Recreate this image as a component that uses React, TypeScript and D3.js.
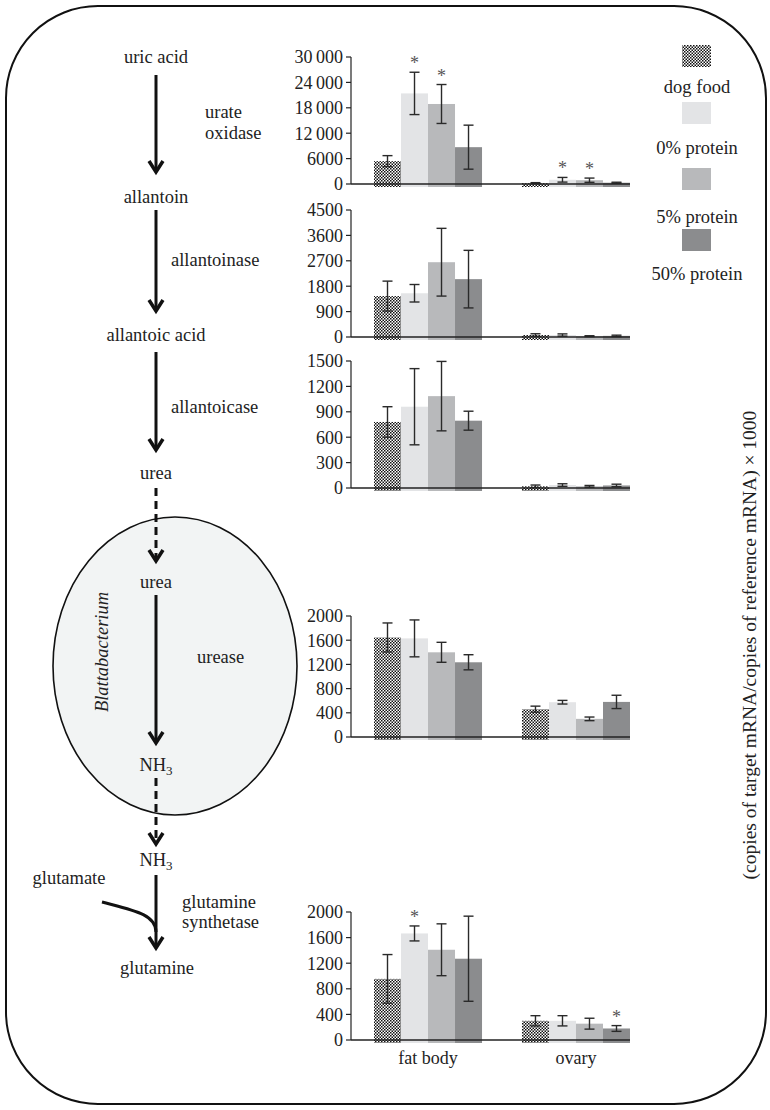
import React from "react";
import * as d3 from "d3";

// ---------- data ----------
const groups = ["fat body", "ovary"];
const series = ["dog food", "0% protein", "5% protein", "50% protein"];
const seriesColors = ["pattern", "#e3e4e6", "#b8b9bb", "#8b8c8e"];

// urate oxidase
const uoMeans = [[5400, 21400, 18900, 8700], [200, 1000, 900, 300]];
const uoErrs = [[1300, 5000, 4600, 5200], [120, 550, 500, 120]];
const uoStars = [[false, true, true, false], [false, true, true, false]];
const uoTicks = [0, 6000, 12000, 18000, 24000, 30000];

// allantoinase
const anMeans = [[1450, 1550, 2650, 2050], [70, 70, 30, 40]];
const anErrs = [[530, 310, 1200, 1020], [45, 40, 15, 25]];
const anStars = [[false, false, false, false], [false, false, false, false]];
const anTicks = [0, 900, 1800, 2700, 3600, 4500];

// allantoicase
const acMeans = [[780, 960, 1085, 795], [20, 35, 20, 30]];
const acErrs = [[180, 450, 410, 112], [15, 15, 10, 15]];
const acStars = [[false, false, false, false], [false, false, false, false]];
const acTicks = [0, 300, 600, 900, 1200, 1500];

// urease
const urMeans = [[1645, 1630, 1400, 1235], [460, 575, 300, 580]];
const urErrs = [[240, 305, 165, 125], [50, 30, 30, 110]];
const urStars = [[false, false, false, false], [false, false, false, false]];
const urTicks = [0, 400, 800, 1200, 1600, 2000];

// glutamine synthetase
const gsMeans = [[955, 1665, 1410, 1270], [300, 300, 255, 180]];
const gsErrs = [[380, 117, 405, 665], [80, 80, 85, 45]];
const gsStars = [[false, true, false, false], [false, false, false, true]];
const gsTicks = [0, 400, 800, 1200, 1600, 2000];

const yLabel = "(copies of target mRNA/copies of reference mRNA) \u00d7 1000";

// ---------- layout ----------
const W = 770;
const H = 1110;
const FONT = "Liberation Serif, Times New Roman, Tinos, DejaVu Serif, Noto Serif, serif";
const FS = 18.5;
const axisX = 351;
const plotRight = 630;

const panels = [
  { means: uoMeans, errs: uoErrs, stars: uoStars, ticks: uoTicks, top: 57, bottom: 184, fmt: (v: number) => (v >= 10000 ? d3.format(",")(v).replace(",", "\u2009") : String(v)) },
  { means: anMeans, errs: anErrs, stars: anStars, ticks: anTicks, top: 210, bottom: 337, fmt: (v: number) => String(v) },
  { means: acMeans, errs: acErrs, stars: acStars, ticks: acTicks, top: 361, bottom: 488, fmt: (v: number) => String(v) },
  { means: urMeans, errs: urErrs, stars: urStars, ticks: urTicks, top: 616, bottom: 737, fmt: (v: number) => String(v) },
  { means: gsMeans, errs: gsErrs, stars: gsStars, ticks: gsTicks, top: 912, bottom: 1040, fmt: (v: number) => String(v) },
];

const xGroup = d3.scaleBand<string>().domain(groups).range([374, 630]).paddingInner(0.27).paddingOuter(0);
const xSeries = d3.scaleBand<string>().domain(series).range([0, xGroup.bandwidth()]).padding(0);

function fillFor(i: number) {
  return seriesColors[i] === "pattern" ? "url(#checker)" : seriesColors[i];
}

function Panel({ p }: { p: (typeof panels)[number] }) {
  const y = d3.scaleLinear().domain([0, p.ticks[p.ticks.length - 1]]).range([p.bottom, p.top]);
  const bw = xSeries.bandwidth();
  return (
    <g>
      {groups.map((g, gi) =>
        series.map((s, si) => {
          const x0 = (xGroup(g) ?? 0) + (xSeries(s) ?? 0);
          const m = p.means[gi][si];
          const e = p.errs[gi][si];
          const cx = x0 + bw / 2;
          const yt = y(m + e);
          const yb = y(Math.max(0, m - e));
          return (
            <g key={g + s}>
              <rect x={x0} y={y(m)} width={bw} height={p.bottom + 3 - y(m)} fill={fillFor(si)} />
              <line x1={cx} x2={cx} y1={yt} y2={yb} stroke="#2a2a2a" strokeWidth={1.4} />
              <line x1={cx - 5} x2={cx + 5} y1={yt} y2={yt} stroke="#2a2a2a" strokeWidth={1.4} />
              <line x1={cx - 5} x2={cx + 5} y1={yb} y2={yb} stroke="#2a2a2a" strokeWidth={1.4} />
              {p.stars[gi][si] && (
                <text x={cx} y={yt - 3} textAnchor="middle" fontSize={18} fill="#555" style={{ fontFamily: FONT }}>
                  *
                </text>
              )}
            </g>
          );
        })
      )}
      <line x1={axisX} x2={axisX} y1={p.top} y2={p.bottom} stroke="#222" strokeWidth={1.2} />
      <line x1={axisX} x2={plotRight} y1={p.bottom} y2={p.bottom} stroke="#222" strokeWidth={1.4} />
      {p.ticks.map((t) => (
        <g key={t}>
          <line x1={axisX - 5} x2={axisX} y1={y(t)} y2={y(t)} stroke="#222" strokeWidth={1.2} />
          <text x={axisX - 8} y={y(t)} dy="0.35em" textAnchor="end" fontSize={18} fill="#222" style={{ fontFamily: FONT }}>
            {p.fmt(t)}
          </text>
        </g>
      ))}
    </g>
  );
}

function Arrow({ x, y1, y2, dashed }: { x: number; y1: number; y2: number; dashed?: boolean }) {
  return (
    <g stroke="#111" fill="none">
      <line x1={x} x2={x} y1={y1} y2={y2 - 2} strokeWidth={3} strokeDasharray={dashed ? "8 5" : undefined} />
      <polyline points={`${x - 7},${y2 - 11} ${x},${y2} ${x + 7},${y2 - 11}`} strokeWidth={3.5} strokeLinejoin="miter" />
    </g>
  );
}

function T({ x, y, children, anchor = "middle", italic = false, transform }: any) {
  return (
    <text x={x} y={y} dy="0.35em" textAnchor={anchor} fontSize={FS} fill="#222" style={{ fontFamily: FONT, fontStyle: italic ? "italic" : "normal" }} transform={transform}>
      {children}
    </text>
  );
}

export default function App() {
  const ax = 156;
  return (
    <svg width={W} height={H} style={{ position: "absolute", left: 0, top: 0 }} xmlns="http://www.w3.org/2000/svg">
      <defs>
        <pattern id="checker" width={3} height={3} patternUnits="userSpaceOnUse">
          <rect width={3} height={3} fill="#fff" />
          <rect width={1.5} height={1.5} fill="#111" />
          <rect x={1.5} y={1.5} width={1.5} height={1.5} fill="#111" />
        </pattern>
      </defs>
      <rect x={0} y={0} width={W} height={H} fill="#fff" />
      <rect x={6} y={6} width={760} height={1098} rx={92} ry={92} fill="none" stroke="#111" strokeWidth={2} />

      {/* ellipse */}
      <ellipse cx={175} cy={666} rx={122} ry={149} fill="#f2f4f4" stroke="#111" strokeWidth={1.6} />

      {/* pathway */}
      <T x={ax} y={57}>uric acid</T>
      <Arrow x={ax} y1={75} y2={172} />
      <T x={205} y={112} anchor="start">urate</T>
      <T x={205} y={133} anchor="start">oxidase</T>
      <T x={ax} y={197}>allantoin</T>
      <Arrow x={ax} y1={210} y2={311} />
      <T x={171} y={260} anchor="start">allantoinase</T>
      <T x={ax} y={335}>allantoic acid</T>
      <Arrow x={ax} y1={352} y2={450} />
      <T x={171} y={407} anchor="start">allantoicase</T>
      <T x={ax} y={473}>urea</T>
      <Arrow x={ax} y1={488} y2={561} dashed />
      <T x={ax} y={582}>urea</T>
      <Arrow x={ax} y1={595} y2={743} />
      <T x={197} y={657} anchor="start">urease</T>
      <T x={0} y={0} italic transform="translate(102,652) rotate(-90)">Blattabacterium</T>
      <text x={ax} y={765} dy="0.35em" textAnchor="middle" fontSize={FS} fill="#222" style={{ fontFamily: FONT }}>
        NH<tspan fontSize={13} dy="4">3</tspan>
      </text>
      <Arrow x={ax} y1={778} y2={844} dashed />
      <text x={ax} y={860} dy="0.35em" textAnchor="middle" fontSize={FS} fill="#222" style={{ fontFamily: FONT }}>
        NH<tspan fontSize={13} dy="4">3</tspan>
      </text>
      <Arrow x={ax} y1={875} y2={948} />
      <path d={`M102,902 C132,910 156,914 156,932`} fill="none" stroke="#111" strokeWidth={3} />
      <T x={69} y={878}>glutamate</T>
      <T x={182} y={902} anchor="start">glutamine</T>
      <T x={182} y={922} anchor="start">synthetase</T>
      <T x={157} y={968}>glutamine</T>

      {/* charts */}
      {panels.map((p, i) => (
        <Panel key={i} p={p} />
      ))}
      {groups.map((g) => (
        <text key={g} x={(xGroup(g) ?? 0) + xGroup.bandwidth() / 2} y={1058} dy="0.35em" textAnchor="middle" fontSize={18} fill="#222" style={{ fontFamily: FONT }}>
          {g}
        </text>
      ))}

      {/* legend */}
      {series.map((s, i) => {
        const sy = [45, 102, 168, 229][i];
        const ly = [87, 148, 217, 274][i];
        return (
          <g key={s}>
            <rect x={682} y={sy} width={29} height={22} fill={fillFor(i)} />
            <T x={697} y={ly}>{s}</T>
          </g>
        );
      })}

      {/* y label */}
      <text x={0} y={0} dy="0.35em" textAnchor="middle" fontSize={19.5} fill="#222" style={{ fontFamily: FONT }} transform="translate(749,645) rotate(-90)">
        {yLabel}
      </text>
    </svg>
  );
}
